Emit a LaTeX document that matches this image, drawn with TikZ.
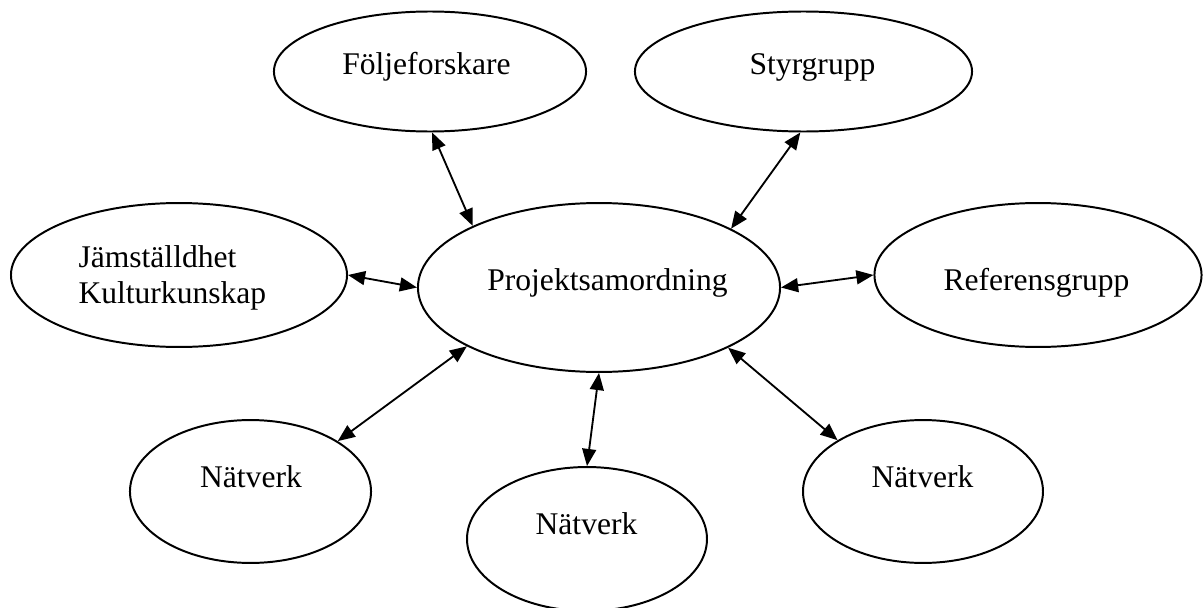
\documentclass[tikz,border=0pt]{standalone}
\usepackage{fontspec}
\setmainfont{Liberation Serif}
\usetikzlibrary{shapes.geometric,arrows.meta}

\begin{document}
\begin{tikzpicture}[x=0.38pt,y=-0.38pt,
    bubble/.style={draw,ellipse,line width=0.75pt,inner sep=0pt},
    txt/.style={font=\fontsize{12}{13.7}\selectfont,inner sep=0pt,anchor=base},
    link/.style={<->,>={Triangle[length=6.5pt,width=5.3pt]},line width=0.7pt}]
    \useasboundingbox (0,0) rectangle (1203,608);
    % Draw ellipses
    \node[bubble,minimum width=118.6pt,minimum height=45.6pt] (folj) at (430,71.5) {};
    \node[bubble,minimum width=128.1pt,minimum height=45.6pt] (styr) at (803.5,71.5) {};
    \node[bubble,minimum width=127.7pt,minimum height=54.7pt] (jam) at (179,275) {};
    \node[bubble,minimum width=137.6pt,minimum height=64.2pt] (proj) at (599,287.5) {};
    \node[bubble,minimum width=124.3pt,minimum height=54.7pt] (ref) at (1038,275) {};
    \node[bubble,minimum width=91.6pt,minimum height=54.3pt] (natv1) at (250.5,491.5) {};
    \node[bubble,minimum width=91.2pt,minimum height=54.7pt] (natv2) at (587,539) {};
    \node[bubble,minimum width=91.2pt,minimum height=54.3pt] (natv3) at (923,491.5) {};
    % Label ellipses
    \node[txt] (folj-txt) at (426.5,75) {Följeforskare};
    \node[txt] (styr-txt) at (812.5,75) {Styrgrupp};
    \node[txt,anchor=west,align=left] (jam-txt) at (78,277.6) {Jämställdhet\\Kulturkunskap};
    \node[txt] (proj-txt) at (607.5,290) {Projektsamordning};
    \node[txt] (ref-txt) at (1036.5,290) {Referensgrupp};
    \node[txt] (natv1-txt) at (251,487.3) {Nätverk};
    \node[txt] (natv2-txt) at (586.5,534.7) {Nätverk};
    \node[txt] (natv3-txt) at (922.5,487.3) {Nätverk};
    % Draw arrows
    \draw[link] (folj.272) -- (proj.154.5);
    \draw[link] (styr.267.6) -- (proj.24.9);
    \draw[link] (jam.-0.3) -- (proj.180);
    \draw[link] (proj.0) -- (ref.180.4);
    \draw[link] (proj.204.9) -- (natv1.30.3);
    \draw[link] (proj.270) -- (natv2.90);
    \draw[link] (proj.335.2) -- (natv3.149.6);
\end{tikzpicture}
\end{document}
